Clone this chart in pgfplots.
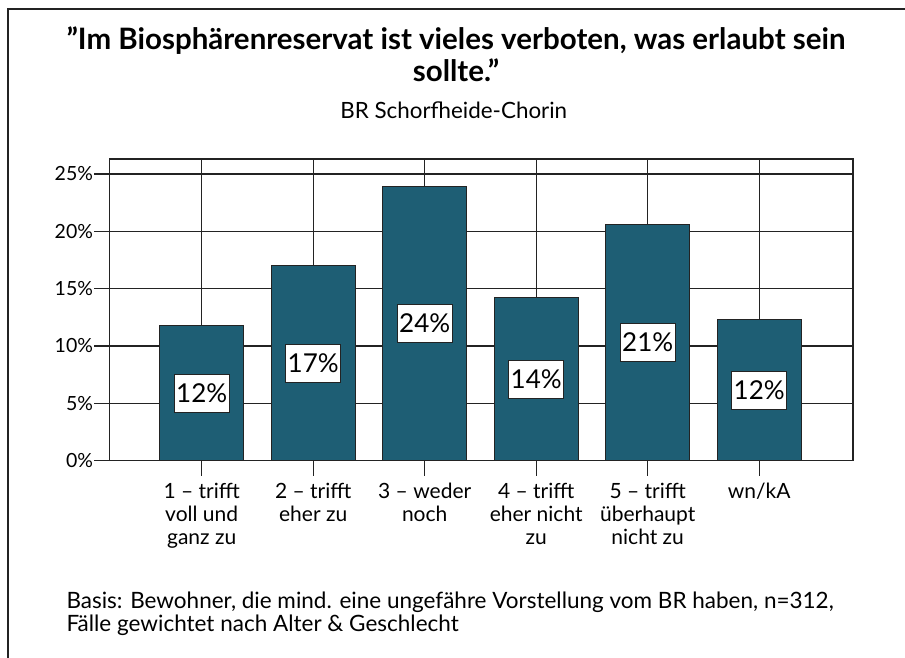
\documentclass[border=0pt]{standalone}
\usepackage{fontspec}
\setmainfont{Lato}
\usepackage{pgfplots}
\usepackage{pgfplotstable}
\pgfplotsset{compat=1.18}
\definecolor{barcol}{RGB}{30,94,116}
\definecolor{gridcol}{RGB}{35,35,35}

\pgfplotstableread{
x v lab
0 11.8 12\%
1 17.0 17\%
2 23.9 24\%
3 14.2 14\%
4 20.6 21\%
5 12.3 12\%
}\datatab

\begin{document}
\begin{tikzpicture}[x=1pt,y=1pt]
\path[use as bounding box] (0,0) rectangle (905,657);
\draw[line width=1.3pt, gridcol] (8,-2) -- (8,648) -- (907,648);

\node[anchor=base, font=\bfseries\fontsize{29.5}{34}\selectfont] at (456,607) {\char"22 Im Biosphärenreservat ist vieles verboten, was erlaubt sein};
\node[anchor=base, font=\bfseries\fontsize{29.5}{34}\selectfont] at (456,575) {sollte.\char"22};
\node[anchor=base, font=\fontsize{22.4}{26}\selectfont] at (453.7,538) {BR Schorfheide-Chorin};

\node[anchor=base west, font=\fontsize{22.5}{26}\selectfont] at (63,49) {Basis: Bewohner, die mind. eine ungefähre Vorstellung vom BR haben, n=312,};
\node[anchor=base west, font=\fontsize{22.5}{26}\selectfont] at (63,25.3) {Fälle gewichtet nach Alter \& Geschlecht};

\begin{axis}[
  at={(201.7pt,196.3pt)}, anchor=origin,
  scale only axis, width=743.7pt, height=301.7pt,
  xmin=-0.83, xmax=5.84, ymin=0, ymax=26.3,
  ytick={0,5,10,15,20,25},
  yticklabel={\pgfmathprintnumber{\tick}\%},
  xtick={0,1,2,3,4,5},
  xticklabels={{1 – trifft\\voll und\\ganz zu},{2 – trifft\\eher zu},{3 – weder\\noch},{4 – trifft\\eher nicht\\zu},{5 – trifft\\überhaupt\\nicht zu},{wn/kA}},
  xmajorgrids, ymajorgrids,
  grid style={gridcol, line width=1.3pt},
  axis line style={gridcol, line width=1.3pt},
  major tick length=15pt, tick align=outside,
  xtick pos=bottom, ytick pos=left,
  tick style={gridcol, line width=1.3pt},
  /pgf/number format/assume math mode=true,
  yticklabel style={font=\fontsize{19.5}{23}\selectfont, inner sep=1pt},
  xticklabel style={font=\fontsize{21}{23}\selectfont, align=center, anchor=north, inner sep=0pt, yshift=-7pt},
]
\addplot[ybar, bar width=0.755, fill=barcol, draw=gridcol, line width=1pt] table[x=x, y=v] {\datatab};
\addplot[draw=none, mark=none, point meta=explicit symbolic,
  nodes near coords,
  every node near coord/.append style={anchor=center, font=\fontsize{26}{30}\selectfont, fill=white, draw=gridcol, line width=1pt, minimum width=55pt, minimum height=38pt, inner sep=2pt}]
  table[x=x, y expr=\thisrow{v}/2, meta=lab] {\datatab};
\end{axis}
\end{tikzpicture}
\end{document}
